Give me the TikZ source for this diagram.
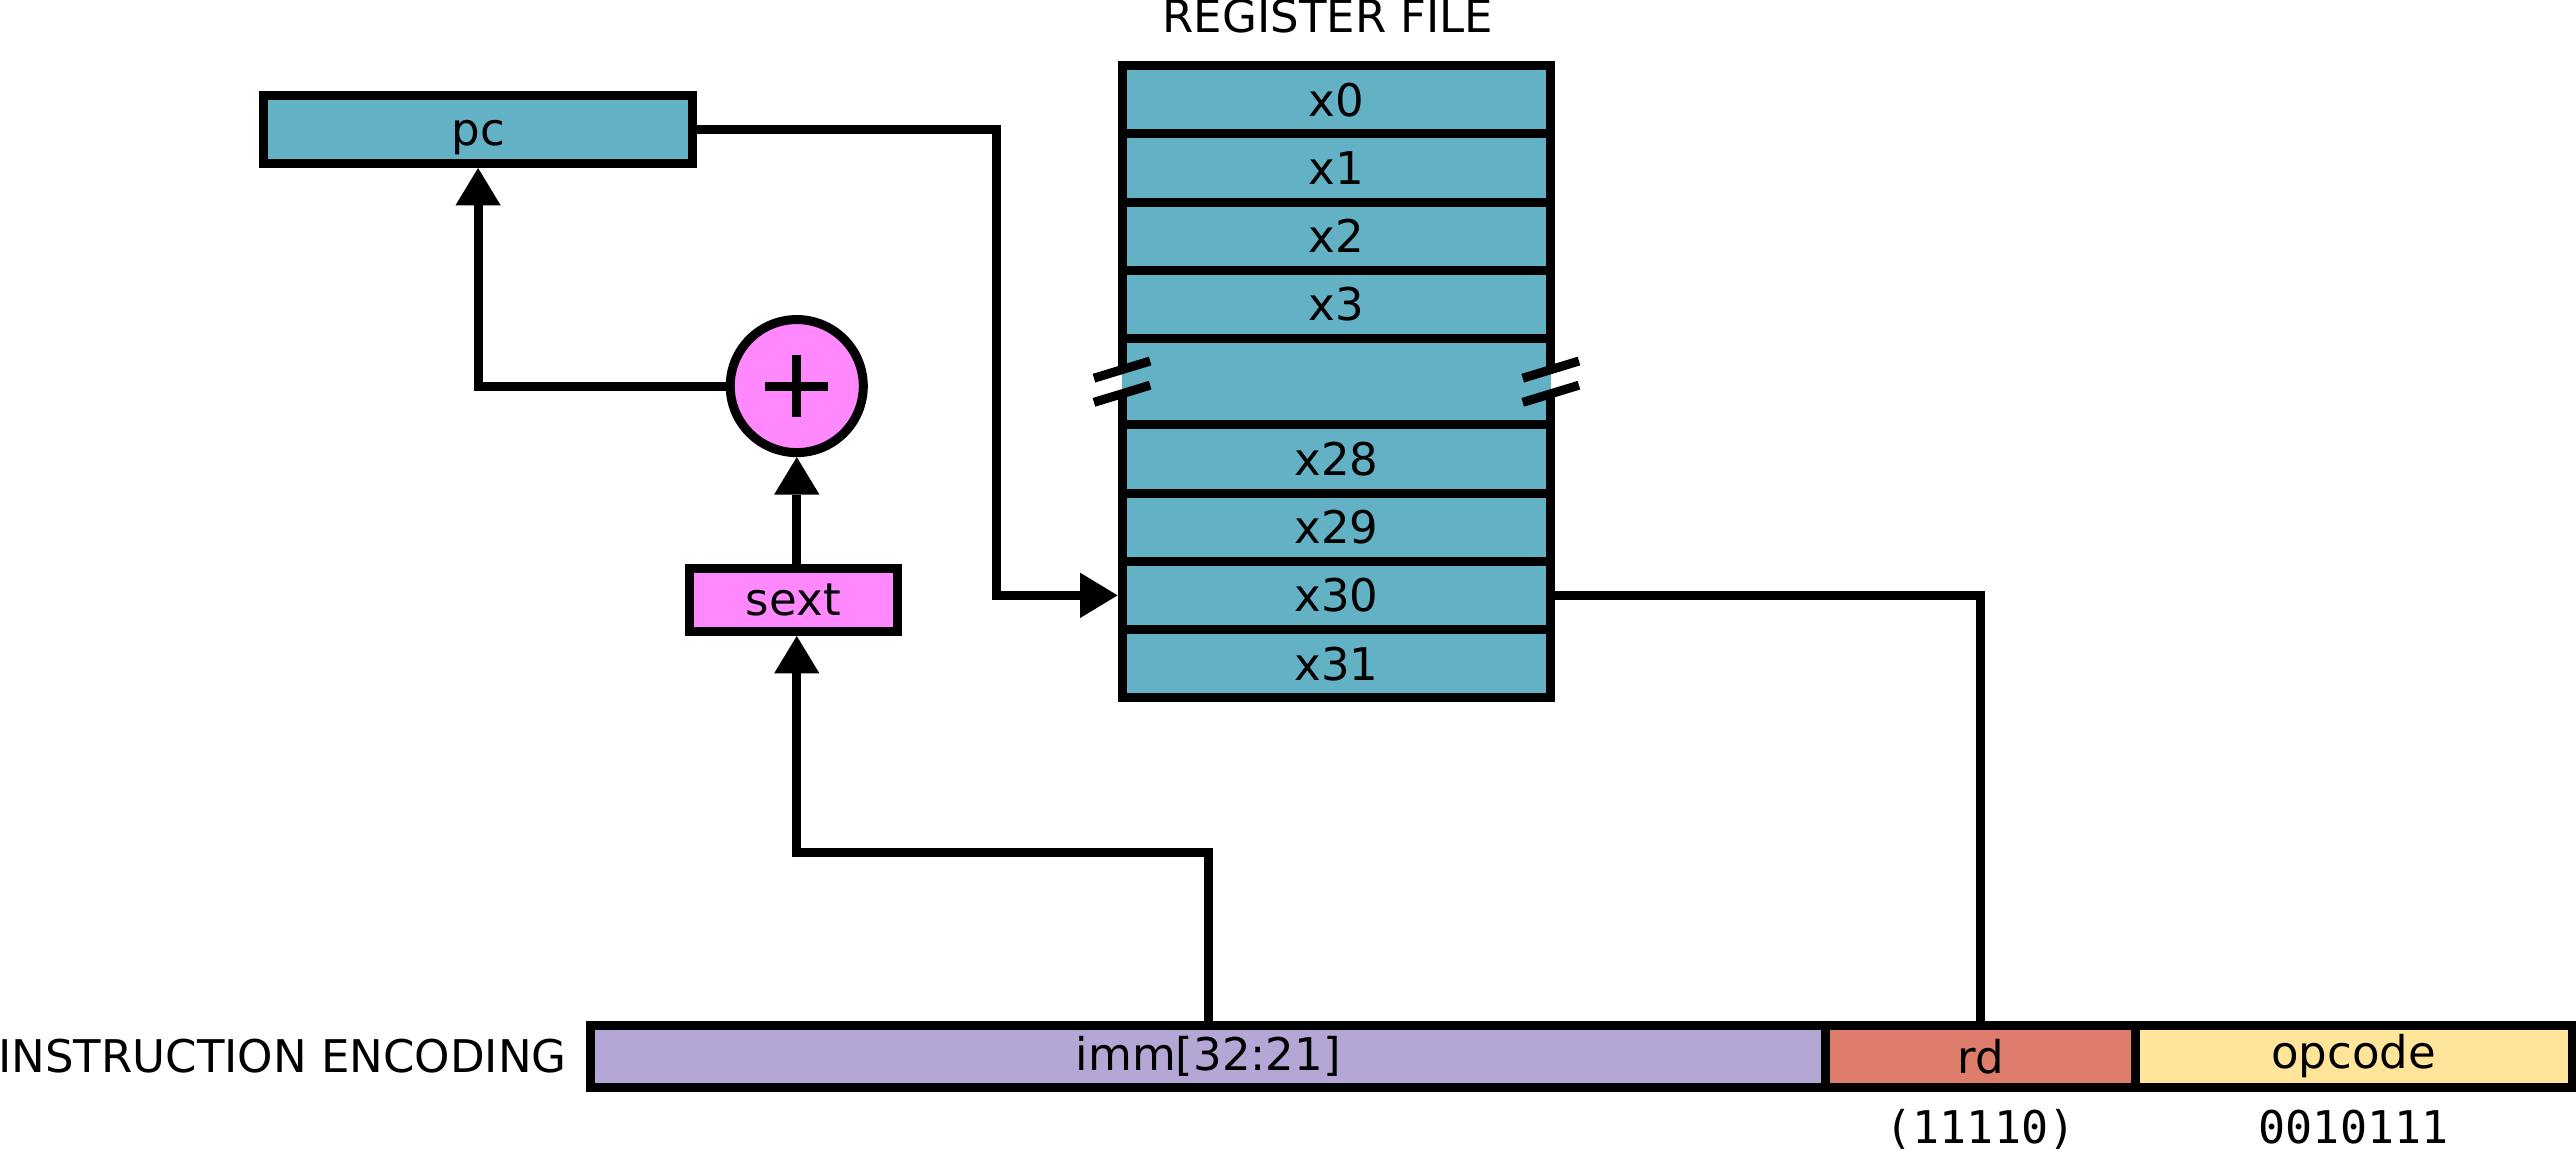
\documentclass[tikz,border=0pt]{standalone}
\usepackage{fontspec}
\setmainfont{DejaVu Sans}
\setmonofont{DejaVu Sans Mono}
\usepackage{tikz}
\usetikzlibrary{positioning,arrows.meta}
\definecolor{regteal}{HTML}{62B1C5}
\definecolor{sextpink}{HTML}{FF88FF}
\definecolor{immpurple}{HTML}{B4A7D6}
\definecolor{rdred}{HTML}{DF7D6C}
\definecolor{opyellow}{HTML}{FFE599}

\begin{document}
\begin{tikzpicture}[
    line width=2.6pt,
    every node/.style={font=\fontsize{13}{16}\selectfont, inner sep=0pt, outer sep=0pt},
    reg/.style={draw, fill=regteal, minimum width=4.35cm, minimum height=0.692cm,
        text height=9.5pt, text depth=0pt},
    field/.style={draw, minimum height=0.633cm},
    bits/.style={anchor=base, font=\ttfamily\fontsize{13}{16}\selectfont},
    arr/.style={-{Triangle[length=0.38cm,width=0.46cm,line width=0pt]}, shorten >=1.3pt},
  ]
    \useasboundingbox (0,0) rectangle (26.133,11.687);
    % register file
    \node[reg] (x0) at (13.558,10.674) {x0};
    \foreach \i/\j in {1/0,2/1,3/2}
        \node[reg, below=0pt of x\j] (x\i) {x\i};
    \node[reg, below=0pt of x3, minimum height=0.875cm] (gap) {};
    \node[reg, below=0pt of gap] (x28) {x28};
    \foreach \i/\j in {29/28,30/29,31/30}
        \node[reg, below=0pt of x\j] (x\i) {x\i};
    \node[above=0.332cm of x0, xshift=-0.087cm] (rflabel) {REGISTER FILE};
    \foreach \s/\o/\n in {west/-0.047/0.047, east/0.047/-0.047} {
        \fill[white] (gap.\s) ++(0,-0.1225) rectangle ++(\o,0.245);
        \fill[regteal] (gap.\s) ++(0,-0.1225) rectangle ++(\n,0.245);
        \draw ([shift={(-0.285,0.0355)}]gap.\s) -- ++(0.57,0.174);
        \draw ([shift={(-0.285,-0.2095)}]gap.\s) -- ++(0.57,0.174);
    }
    % pc and adder
    \node[reg] (pc) at (4.85,10.374) {pc};
    \node[circle, draw, fill=sextpink, minimum size=1.35cm] (add) at (8.083,7.770) {};
    \draw ([xshift=-0.318cm]add.center) -- ([xshift=0.318cm]add.center);
    \draw ([yshift=-0.318cm]add.center) -- ([yshift=0.318cm]add.center);
    \node[draw, fill=sextpink, minimum width=2.107cm, minimum height=0.635cm] (sext) at (8.048,5.598) {sext};
    % instruction encoding
    \node[field, fill=immpurple, minimum width=12.533cm] (imm) at (12.257,0.970) {imm[32:21]};
    \node[field, fill=rdred, minimum width=3.137cm, right=0pt of imm] (rd) {rd};
    \node[field, fill=opyellow, minimum width=4.432cm, right=0pt of rd] (opcode) {opcode};
    \node[left=0.24cm of imm] (enclabel) {INSTRUCTION ENCODING};
    \node[bits] (rdbits) at ([yshift=-0.57cm]rd.south) {(11110)};
    \node[bits] (opbits) at ([yshift=-0.57cm]opcode.south) {0010111};
    % wires
    \draw[arr] (pc.east) -- ++(3.083,0) |- (x30.west);
    \draw[arr] (add.west) -| (pc.south);
    \draw[arr] (add.south |- sext.north) -- (add.south);
    \draw[arr] (imm.north) -- ++(0,1.75) -| (add.south |- sext.south);
    \draw (x30.east) -| (rd.north);
\end{tikzpicture}
\end{document}
